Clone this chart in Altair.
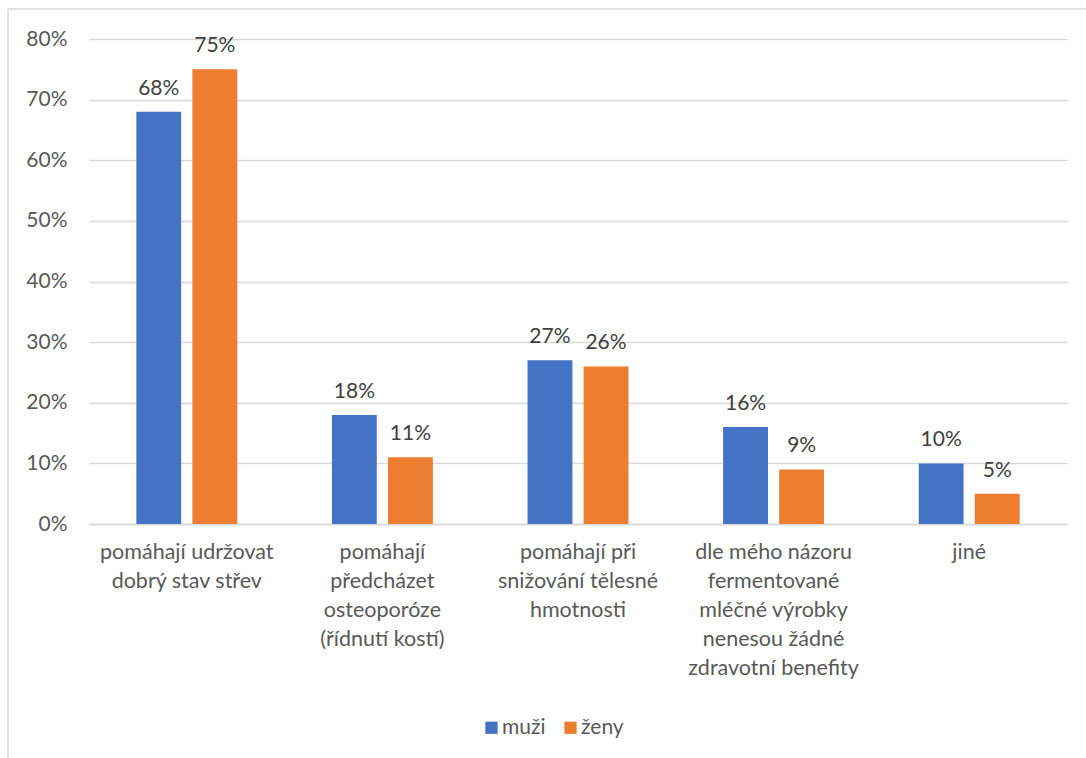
import altair as alt
import pandas as pd

categories = [
    "pomáhají udržovat|dobrý stav střev",
    "pomáhají|předcházet|osteoporóze|(řídnutí kostí)",
    "pomáhají při|snižování tělesné|hmotnosti",
    "dle mého názoru|fermentované|mléčné výrobky|nenesou žádné|zdravotní benefity",
    "jiné",
]
series = ["muži", "ženy"]
muzi = [0.68, 0.18, 0.27, 0.16, 0.10]
zeny = [0.75, 0.11, 0.26, 0.09, 0.05]
colors = ["#4472C4", "#ED7D31"]
y_ticks = [0, 0.1, 0.2, 0.3, 0.4, 0.5, 0.6, 0.7, 0.8]

rows = []
for i, c in enumerate(categories):
    rows.append({"kategorie": c, "pohlaví": series[0], "podíl": muzi[i]})
    rows.append({"kategorie": c, "pohlaví": series[1], "podíl": zeny[i]})
df = pd.DataFrame(rows)

FONT = "Lato"
TXT = "#595959"

x_enc = alt.X(
    "kategorie:N",
    sort=categories,
    scale=alt.Scale(paddingInner=0.484, paddingOuter=0.242),
    axis=alt.Axis(
        title=None,
        labelAngle=0,
        labelExpr="split(datum.label, '|')",
        labelLineHeight=29,
        labelPadding=17,
        labelFontSize=21.5,
        labelFont=FONT,
        labelColor=TXT,
        ticks=False,
        domainColor="#D9D9D9",
        domainWidth=1.5,
        labelLimit=300,
    ),
)
xoff = alt.XOffset("pohlaví:N", sort=series,
                   scale=alt.Scale(paddingInner=0.2, paddingOuter=0))

base = alt.Chart(df)

bars = base.mark_bar().encode(
    x=x_enc,
    xOffset=xoff,
    y=alt.Y(
        "podíl:Q",
        scale=alt.Scale(domain=[0, 0.8], nice=False),
        axis=alt.Axis(
            title=None,
            values=y_ticks,
            format=".0%",
            labelFontSize=21,
            labelFont=FONT,
            labelColor=TXT,
            labelPadding=22,
            ticks=False,
            domain=False,
            gridColor="#D9D9D9",
            gridWidth=1.5,
        ),
    ),
    color=alt.Color(
        "pohlaví:N",
        sort=series,
        scale=alt.Scale(domain=series, range=colors),
        legend=alt.Legend(
            title=None,
            orient="none",
            direction="horizontal",
            legendX=392,
            legendY=678,
            symbolType="square",
            symbolSize=150,
            symbolStrokeWidth=0,
            labelFontSize=21,
            labelFont=FONT,
            labelColor=TXT,
            columnPadding=14,
            labelOffset=0,
        ),
    ),
)

labels = base.mark_text(
    baseline="bottom", dy=-13, fontSize=21, font=FONT, color="#404040"
).encode(
    x=alt.X("kategorie:N", sort=categories),
    xOffset=xoff,
    y="podíl:Q",
    text=alt.Text("podíl:Q", format=".0%"),
)

frame_left = alt.Chart(pd.DataFrame({"a": [0]})).mark_rule(
    color="#D9D9D9", strokeWidth=1.5
).encode(x=alt.value(-81), y=alt.value(-30), y2=alt.value(760))
frame_top = alt.Chart(pd.DataFrame({"a": [0]})).mark_rule(
    color="#D9D9D9", strokeWidth=1.5
).encode(x=alt.value(-81), x2=alt.value(1010), y=alt.value(-30))

chart = (
    alt.layer(bars, labels, frame_left, frame_top)
    .properties(
        width=978,
        height=485,
        autosize=alt.AutoSizeParams(type="none"),
        padding={"left": 89, "top": 39, "right": 19, "bottom": 234},
        background="white",
    )
    .configure_view(stroke=None)
)

chart.save("out.html", embed_options={"renderer": "svg", "actions": False})
